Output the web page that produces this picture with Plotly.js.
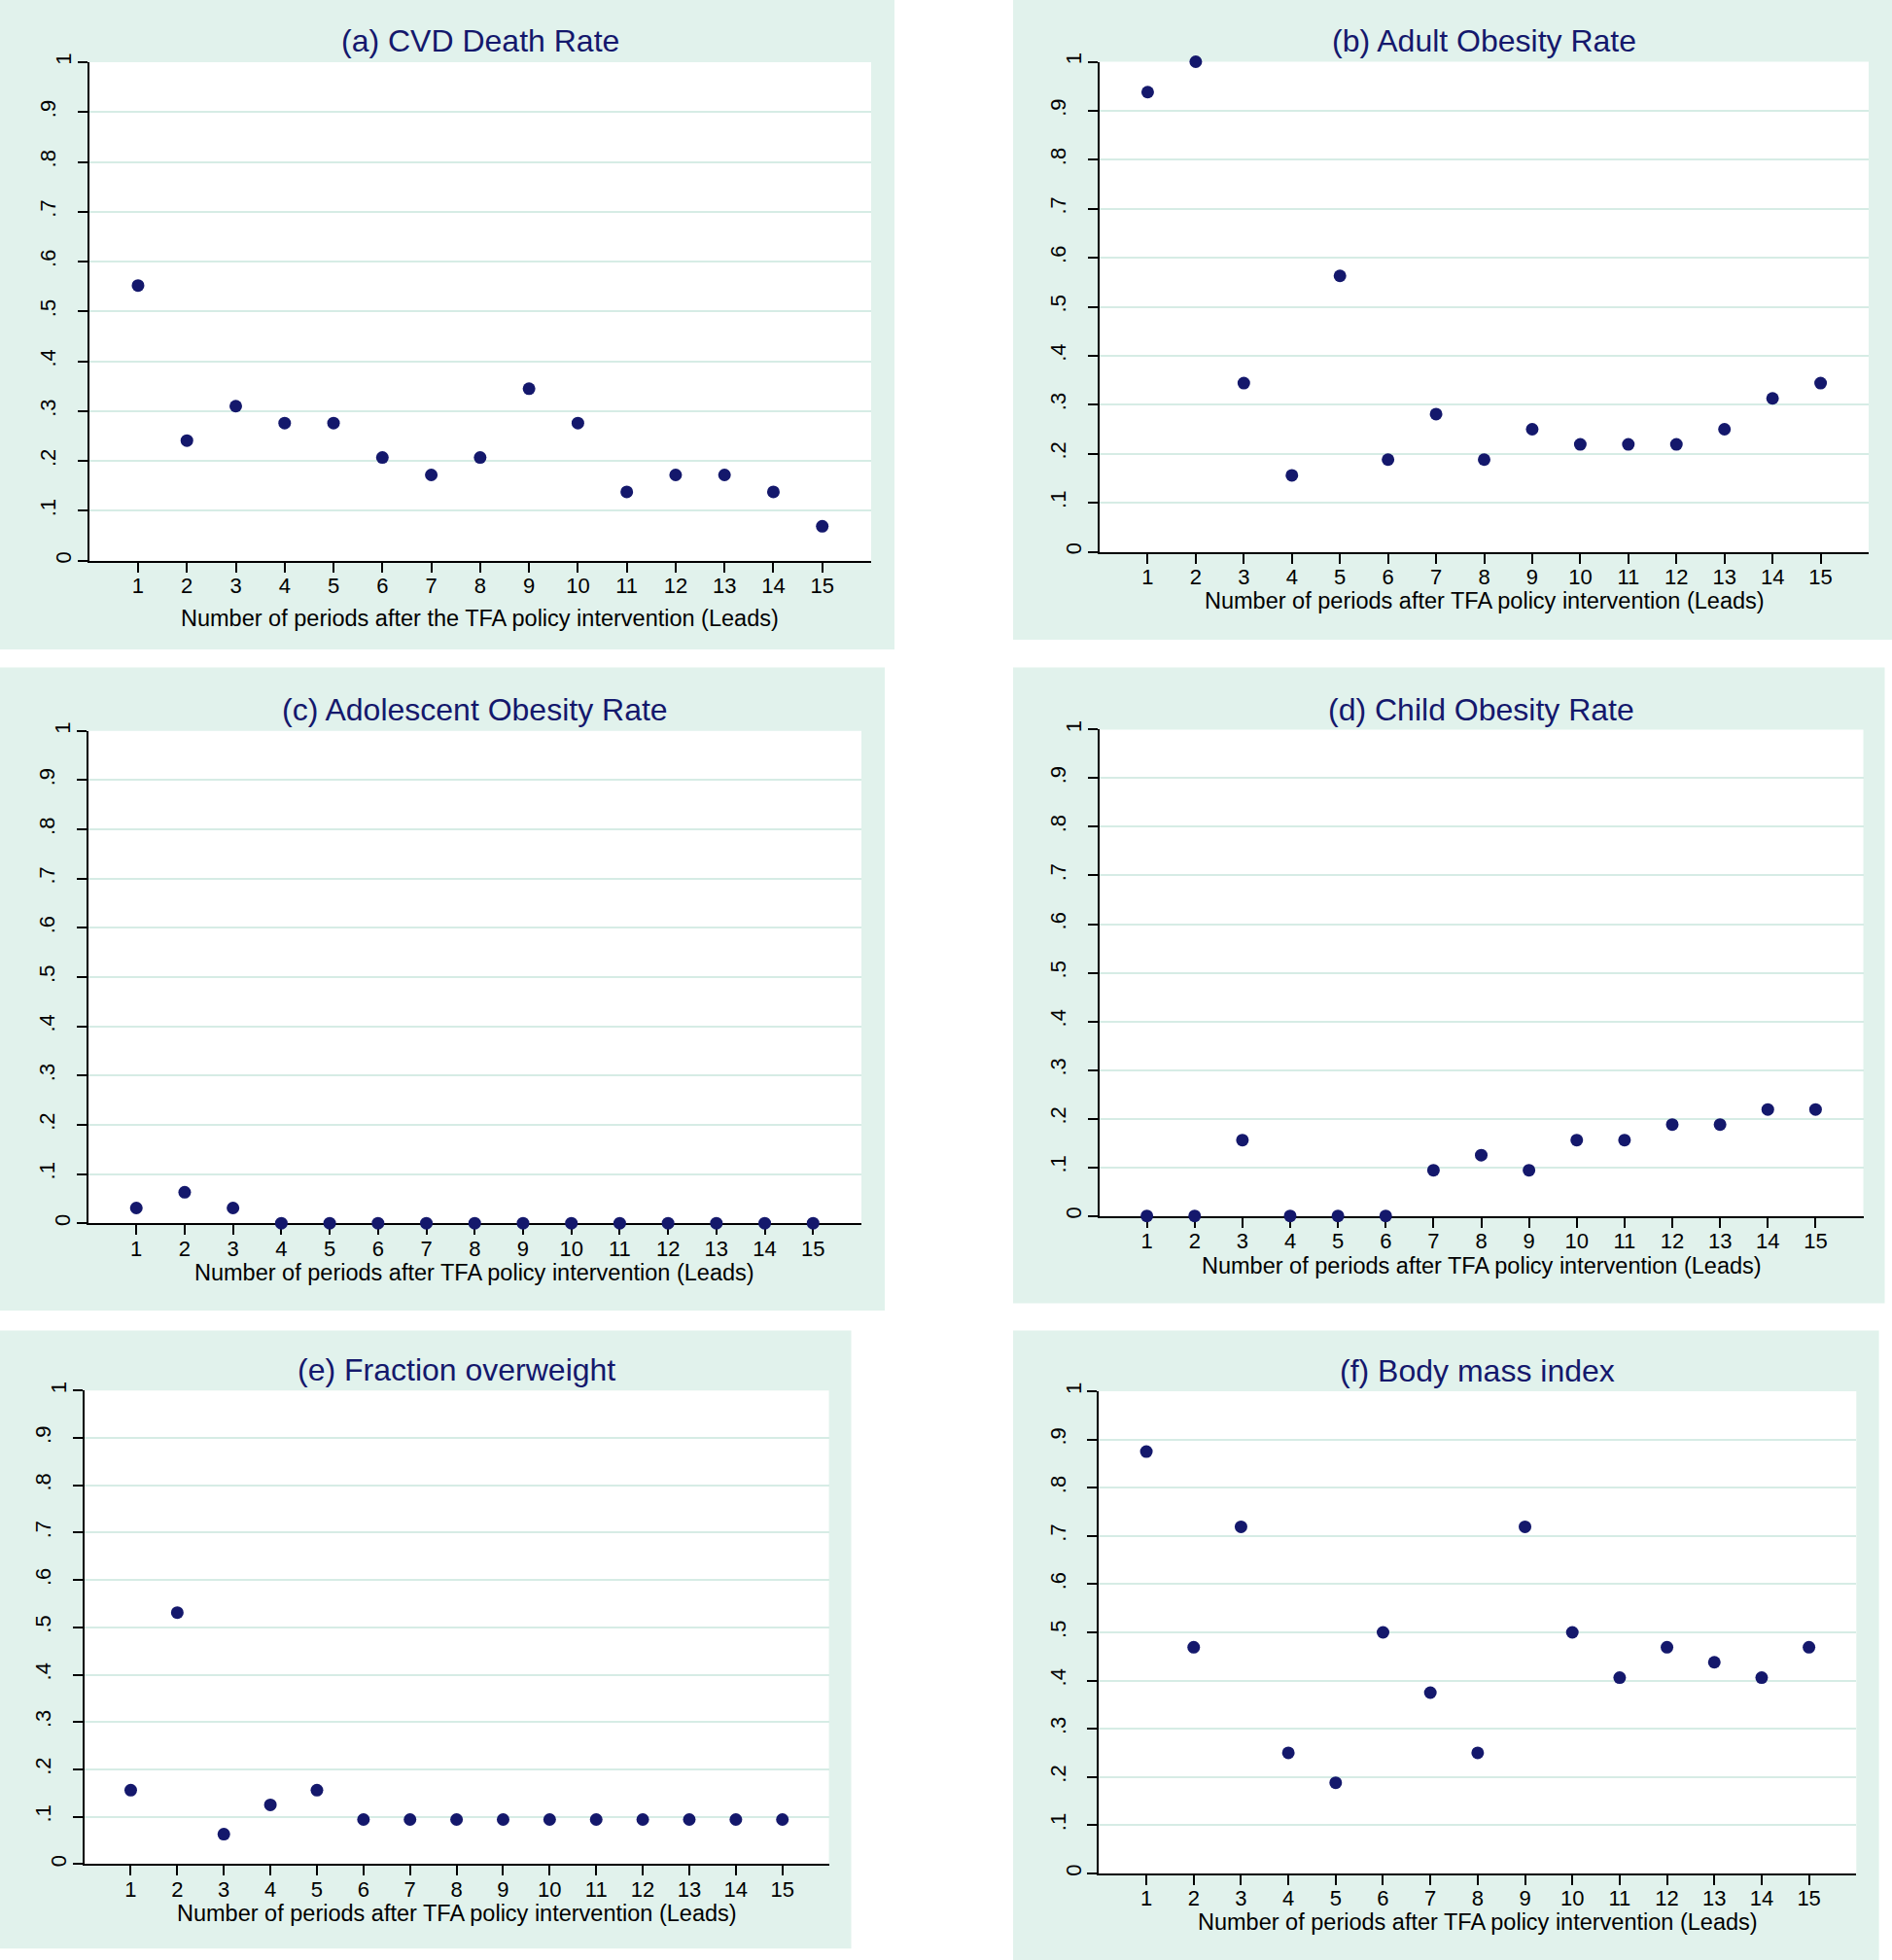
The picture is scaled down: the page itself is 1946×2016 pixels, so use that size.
<!DOCTYPE html>
<html>
<head>
<meta charset="utf-8">
<script src="https://cdn.plot.ly/plotly-3.0.1.min.js"></script>
<style>
html,body{margin:0;padding:0;background:#ffffff;}
#chart{width:1946px;height:2016px;}
</style>
</head>
<body>
<div id="chart"></div>
<script>
// ---------------- DATA ----------------
const leads = [1,2,3,4,5,6,7,8,9,10,11,12,13,14,15];

const cvdDeathRate        = [0.552,0.241,0.310,0.276,0.276,0.207,0.172,0.207,0.345,0.276,0.138,0.172,0.172,0.138,0.069];
const adultObesityRate    = [0.938,1.000,0.344,0.156,0.563,0.188,0.281,0.188,0.250,0.219,0.219,0.219,0.250,0.313,0.344];
const adolescentObesity   = [0.031,0.063,0.031,0,0,0,0,0,0,0,0,0,0,0,0];
const childObesityRate    = [0,0,0.156,0,0,0,0.094,0.125,0.094,0.156,0.156,0.188,0.188,0.219,0.219];
const fractionOverweight  = [0.156,0.531,0.063,0.125,0.156,0.094,0.094,0.094,0.094,0.094,0.094,0.094,0.094,0.094,0.094];
const bodyMassIndex       = [0.875,0.469,0.719,0.250,0.188,0.500,0.375,0.250,0.719,0.500,0.406,0.469,0.438,0.406,0.469];

const panelTitles = [
  "(a) CVD Death Rate",
  "(b) Adult Obesity Rate",
  "(c) Adolescent Obesity Rate",
  "(d) Child Obesity Rate",
  "(e) Fraction overweight",
  "(f) Body mass index"
];
const xAxisTitles = [
  "Number of periods after the TFA policy intervention (Leads)",
  "Number of periods after TFA policy intervention (Leads)",
  "Number of periods after TFA policy intervention (Leads)",
  "Number of periods after TFA policy intervention (Leads)",
  "Number of periods after TFA policy intervention (Leads)",
  "Number of periods after TFA policy intervention (Leads)"
];
// y ticks: end labels (0, 1) and inner decimal labels (.1 ... .9)
const yTickVals      = [0,0.1,0.2,0.3,0.4,0.5,0.6,0.7,0.8,0.9,1];
const yEndTickText   = ["0","","","","","","","","","","1"];
const yInnerTickVals = [0.1,0.2,0.3,0.4,0.5,0.6,0.7,0.8,0.9];
const yInnerTickText = [".1",".2",".3",".4",".5",".6",".7",".8",".9"];
const xTickLabels = ["1","2","3","4","5","6","7","8","9","10","11","12","13","14","15"];

const seriesList = [cvdDeathRate, adultObesityRate, adolescentObesity, childObesityRate, fractionOverweight, bodyMassIndex];

// ---------------- LAYOUT GEOMETRY (pixels) ----------------
const W = 1946, H = 2016;
const geom = [
  {box:[0,0,920,668],              plot:[91.7,64,896,576.7],          title:[494,42],       xtitle:636},
  {box:[1042,0,1946,658],          plot:[1131,63.5,1922,567.5],       title:[1526.5,42.5],  xtitle:618.2},
  {box:[0,686.5,910,1348],         plot:[90.5,751.8,886,1258.2],      title:[488,730],      xtitle:1309.2},
  {box:[1042,686.5,1938.5,1340.5], plot:[1130.5,750.4,1916.5,1250.7], title:[1523.5,730],   xtitle:1301.6},
  {box:[0,1368.4,875.5,2004.3],    plot:[86.6,1430.3,852.6,1917.3],   title:[469.6,1409.4], xtitle:1967.6},
  {box:[1042,1368.4,1932.6,2016],  plot:[1130.4,1431.1,1909.3,1926.9],title:[1519.9,1410.2],xtitle:1977.4}
];

const navy = "#14186c";
const boxGreen = "#e1f2ec";
const gridGreen = "#d6ece5";
const fontFam = "Liberation Sans, Arial, Helvetica, sans-serif";

const px = v => v / W;
const py = v => 1 - v / H;

const traces = [];
const shapes = [];
const annotations = [];
const layout = {
  width: W, height: H,
  margin: {l:0, r:0, t:0, b:0, pad:0},
  paper_bgcolor: "#ffffff",
  plot_bgcolor: "#ffffff",
  showlegend: false,
  font: {family: fontFam, color: "#000000"}
};

geom.forEach((g, i) => {
  const n = i + 1;
  const sfx = n === 1 ? "" : String(n);
  const xr = "x" + sfx, yr = "y" + sfx;
  const ovNum = n + 6;           // overlay y-axis carrying inner labels
  const yOv = "yaxis" + ovNum;

  traces.push({
    type: "scatter", mode: "markers",
    x: leads, y: seriesList[i],
    xaxis: xr, yaxis: yr,
    cliponaxis: false,
    marker: {size: 13, color: navy, line: {width: 0}},
    hoverinfo: "x+y"
  });

  layout["xaxis" + sfx] = {
    domain: [px(g.plot[0]), px(g.plot[2])],
    anchor: yr,
    range: [0, 16],
    tickmode: "array",
    tickvals: leads,
    ticktext: xTickLabels,
    ticks: "outside", ticklen: 10, tickwidth: 2, tickcolor: "#000",
    showline: true, linecolor: "#000", linewidth: 2,
    showgrid: false, zeroline: false,
    layer: "below traces",
    tickfont: {size: 22, family: fontFam, color: "#000"},
    ticklabelstandoff: -5,
    automargin: false,
    fixedrange: true
  };
  layout["yaxis" + sfx] = {
    domain: [py(g.plot[3]), py(g.plot[1])],
    anchor: xr,
    range: [0, 1],
    tickmode: "array",
    tickvals: yTickVals,
    ticktext: yEndTickText,
    tickangle: -90,
    ticks: "outside", ticklen: 10, tickwidth: 2, tickcolor: "#000",
    showline: true, linecolor: "#000", linewidth: 2,
    showgrid: true, gridcolor: gridGreen, gridwidth: 2,
    zeroline: false,
    layer: "below traces",
    tickfont: {size: 22, family: fontFam, color: "#000"},
    ticklabelstandoff: -2,
    automargin: false,
    fixedrange: true
  };
  // overlay axis: decimal labels sit further from the axis, as in the original
  layout[yOv] = {
    overlaying: yr,
    anchor: xr,
    side: "left",
    range: [0, 1],
    tickmode: "array",
    tickvals: yInnerTickVals,
    ticktext: yInnerTickText,
    tickangle: -90,
    ticks: "outside", ticklen: 10, tickwidth: 0, tickcolor: "rgba(0,0,0,0)",
    showline: false, showgrid: false, zeroline: false,
    tickfont: {size: 22, family: fontFam, color: "#000"},
    ticklabelstandoff: 15,
    automargin: false,
    fixedrange: true
  };
  // invisible trace to activate the overlay axis
  traces.push({
    type: "scatter", mode: "markers",
    x: [leads[0]], y: [yInnerTickVals[0]],
    xaxis: xr, yaxis: "y" + ovNum,
    marker: {size: 1, color: "rgba(0,0,0,0)"},
    hoverinfo: "skip", showlegend: false
  });

  shapes.push({
    type: "rect", xref: "paper", yref: "paper", layer: "below",
    x0: px(g.box[0]), x1: px(g.box[2]), y0: py(g.box[3]), y1: py(g.box[1]),
    fillcolor: boxGreen, line: {width: 0}
  });
  shapes.push({
    type: "rect", xref: "paper", yref: "paper", layer: "below",
    x0: px(g.plot[0]), x1: px(g.plot[2]), y0: py(g.plot[3]), y1: py(g.plot[1]),
    fillcolor: "#ffffff", line: {width: 0}
  });

  annotations.push({
    text: panelTitles[i], xref: "paper", yref: "paper",
    x: px(g.title[0]), y: py(g.title[1]),
    xanchor: "center", yanchor: "middle", showarrow: false,
    font: {size: 32, family: fontFam, color: navy}
  });
  annotations.push({
    text: xAxisTitles[i], xref: "paper", yref: "paper",
    x: px((g.plot[0] + g.plot[2]) / 2), y: py(g.xtitle),
    xanchor: "center", yanchor: "middle", showarrow: false,
    font: {size: 23.5, family: fontFam, color: "#000"}
  });
});

layout.shapes = shapes;
layout.annotations = annotations;

Plotly.newPlot("chart", traces, layout, {displayModeBar: false, staticPlot: true});
</script>
</body>
</html>
